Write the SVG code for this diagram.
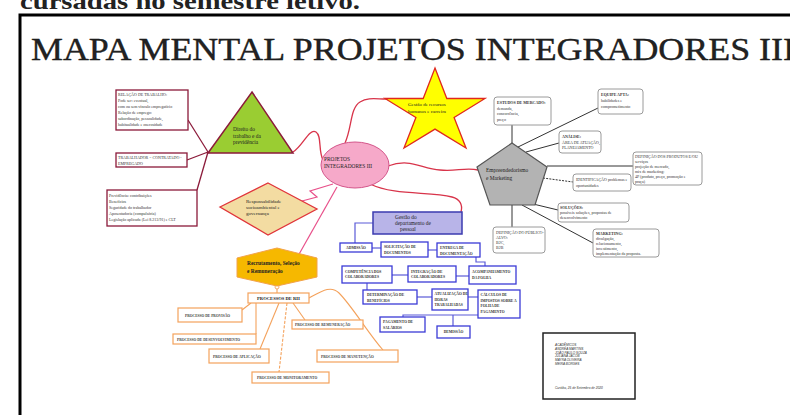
<svg xmlns="http://www.w3.org/2000/svg" width="790" height="415" viewBox="0 0 790 415">
<style>
.sf{font-family:"Liberation Serif",serif;fill:#222}
.ss{font-family:"Liberation Sans",sans-serif;fill:#333}
.lbl{font-size:5.4px}
.sm{font-size:4px;fill:#333}
.bl{font-size:3.7px;font-weight:bold;fill:#333}
.or{font-size:3.6px;font-weight:bold;fill:#444}
.gbox{fill:#fff;stroke:#9a9a9a;stroke-width:1}
.mbox{fill:#fff;stroke:#8b1a3a;stroke-width:1.3}
.obox{fill:#fff;stroke:#f4a25c;stroke-width:1.2}
.bbox{fill:#fff;stroke:#3b3bd6;stroke-width:1.3}
.cred{fill:none;stroke:#d8344a;stroke-width:1.3}
.cpink{fill:none;stroke:#e8508a;stroke-width:1.2}
.cmar{fill:none;stroke:#8b1a3a;stroke-width:1.3}
.cor{fill:none;stroke:#f4a25c;stroke-width:1.1}
.cblu{fill:none;stroke:#5a5ad8;stroke-width:1.2}
.cgr{fill:none;stroke:#333;stroke-width:1}
</style>

<text x="20" y="9" class="sf" font-size="24" font-weight="bold" textLength="340" lengthAdjust="spacingAndGlyphs">cursadas no semestre letivo.</text>
<rect x="20" y="15" width="800" height="420" fill="none" stroke="#000" stroke-width="3"/>
<text x="31" y="60" class="sf" font-size="31" fill="#111" stroke="#111" stroke-width="0.35" textLength="764" lengthAdjust="spacingAndGlyphs">MAPA MENTAL PROJETOS INTEGRADORES III</text>

<g id="connectors">
  <path class="cred" d="M293,152 C303,146 309,128 316,132 C322,136 318,150 323,160"/>
  <path class="cred" d="M345,143 C352,128 350,108 360,102 C368,97 376,99 386,99"/>
  <path class="cred" d="M388,166 C410,158 420,168 440,170 C455,172 465,167 478,170"/>
  <path class="cred" d="M370,184 C395,196 430,191 452,197 C460,199 463,205 461,212"/>
  <path class="cpink" d="M333,184 L310,191 L317,197 L302,201"/>
  <path class="cpink" d="M337,187 L298,256"/>
  <path class="cmar" d="M208,152 L188,120"/>
  <path class="cmar" d="M208,152 L187,160"/>
  <path class="cmar" d="M208,152 L197,190"/>
  <path class="cor" d="M277,287 L277,293"/>
  <circle cx="277" cy="287" r="2" fill="#fff" stroke="#f4a25c" stroke-width="0.9"/>
  <path class="cor" d="M251,303 L242,310"/>
  <path class="cor" d="M256,303 L256,334"/>
  <path class="cor" d="M279,303 L260,349"/>
  <path class="cor" d="M287,303 L279,372" stroke-dasharray="3,1.5"/>
  <path class="cor" d="M293,303 L305,320"/>
  <path class="cor" d="M309,298 C322,291 331,285 339,293 C352,306 368,333 383,350"/>
  <path class="cblu" d="M373,223 L355,223 L355,243"/>
  <path class="cblu" d="M372,248 L381,248"/>
  <path class="cblu" d="M428,250 L437,250" stroke-width="2"/>
  <path class="cblu" d="M476,257 L476,262 L485,262 L485,266"/>
  <path class="cblu" d="M469,276 L456,276"/>
  <path class="cblu" d="M408,275 L392,275"/>
  <path class="cblu" d="M367,283 L367,290"/>
  <path class="cblu" d="M417,297 L432,297"/>
  <path class="cblu" d="M468,297 L478,297"/>
  <path class="cblu" d="M403,317 L403,315 L478,315"/>
  <path class="cblu" d="M453,315 L453,326"/>
  <path class="cgr" d="M512,125 L512,143" stroke-width="1.4"/>
  <path class="cgr" d="M518,147 L598,108"/>
  <path class="cgr" d="M526,152 L559,143"/>
  <path class="cgr" d="M547,166 L633,166" stroke-width="1.6"/>
  <path class="cgr" d="M543,178 L573,182" stroke-dasharray="2,1.2"/>
  <path class="cgr" d="M529,203 L558,210"/>
  <path class="cgr" d="M522,205 L593,243"/>
  <path class="cgr" d="M512,205 L512,227" stroke-width="1.4"/>
</g>

<g id="center">
  <ellipse cx="355" cy="165" rx="34" ry="23" fill="#f6a9c9" stroke="#d4558a" stroke-width="1"/>
  <text class="sf lbl" x="324" y="161">PROJETOS</text>
  <text class="sf lbl" x="324" y="168">INTEGRADORES III</text>
</g>

<g id="star">
  <polygon points="435,68 446.8,98.5 485,98.5 454.1,117.4 466,148 435,129.1 404,148 415.9,117.4 385,98.5 423.2,98.5" fill="#ffff00" stroke="#e0281e" stroke-width="1.3"/>
  <text class="sf" font-size="5" x="408" y="106">Gestão de recursos</text>
  <text class="sf" font-size="5" x="408" y="113">humanos e carreira</text>
</g>

<g id="direito">
  <polygon points="252,92 293,153 208,153" fill="#9acd32" stroke="#8b1a3a" stroke-width="1.5"/>
  <text class="sf lbl" x="233" y="131">Direito do</text>
  <text class="sf lbl" x="233" y="137.5">trabalho e da</text>
  <text class="sf lbl" x="233" y="144">previdência</text>
</g>

<g id="relacao">
  <rect class="mbox" x="116" y="90" width="72" height="40"/>
  <text class="sf sm" x="118" y="96">RELAÇÃO DE TRABALHO:</text>
  <text class="sf sm" x="118" y="102">Pode ser: eventual,</text>
  <text class="sf sm" x="118" y="108">com ou sem vínculo empregatício</text>
  <text class="sf sm" x="118" y="114">Relação de emprego:</text>
  <text class="sf sm" x="118" y="120">subordinação, pessoalidade,</text>
  <text class="sf sm" x="118" y="126">habitualidade e onerosidade</text>
</g>

<g id="trabalhador">
  <rect class="mbox" x="116" y="153" width="71" height="14"/>
  <text class="sf sm" x="118" y="159">TRABALHADOR = CONTRATADO -</text>
  <text class="sf sm" x="118" y="165">EMPREGADO</text>
</g>

<g id="previdencia">
  <rect class="mbox" x="107" y="190" width="90" height="36"/>
  <text class="sf sm" x="109" y="197">Previdência: contribuições</text>
  <text class="sf sm" x="109" y="203">Benefícios</text>
  <text class="sf sm" x="109" y="209">Seguridade do trabalhador</text>
  <text class="sf sm" x="109" y="215">Aposentadoria (compulsória)</text>
  <text class="sf sm" x="109" y="221">Legislação aplicada (Lei 8.213/91) e CLT</text>
</g>

<g id="responsabilidade">
  <polygon points="268,183 317,209 268,235 220,207" fill="#f3dca2" stroke="#e0343a" stroke-width="1.3"/>
  <text class="sf" font-size="5" x="246" y="203">Responsabilidade</text>
  <text class="sf" font-size="5" x="246" y="209">socioambiental e</text>
  <text class="sf" font-size="5" x="246" y="215">governança</text>
</g>

<g id="recrutamento">
  <polygon points="277,248 317,258 317,277 277,286 237,277 237,258" fill="#f6b800" stroke="#f2a24a" stroke-width="1"/>
  <text class="sf lbl" x="247" y="265" font-weight="bold">Recrutamento, Seleção</text>
  <text class="sf lbl" x="247" y="273" font-weight="bold">e Remuneração</text>
</g>

<g id="processos">
  <rect class="obox" x="248" y="293" width="61" height="10"/>
  <text class="sf" font-size="4.6" font-weight="bold" x="278.5" y="299.8" text-anchor="middle">PROCESSOS DE RH</text>
</g>
<g id="provisao">
  <rect class="obox" x="178" y="308" width="64" height="14"/>
  <text class="sf or" x="185" y="316.5">PROCESSO DE PROVISÃO</text>
</g>
<g id="desenvolvimento">
  <rect class="obox" x="173" y="334" width="83" height="10"/>
  <text class="sf or" x="177" y="340.5">PROCESSO DE DESENVOLVIMENTO</text>
</g>
<g id="aplicacao">
  <rect class="obox" x="209" y="349" width="60" height="14"/>
  <text class="sf or" x="213" y="357.5">PROCESSO DE APLICAÇÃO</text>
</g>
<g id="monitoramento">
  <rect class="obox" x="252" y="372" width="77" height="11"/>
  <text class="sf or" x="257" y="379">PROCESSO DE MONITORAMENTO</text>
</g>
<g id="remuneracao">
  <rect class="obox" x="292" y="320" width="71" height="9"/>
  <text class="sf or" x="295" y="326">PROCESSO DE REMUNERAÇÃO</text>
</g>
<g id="manutencao">
  <rect class="obox" x="317" y="350" width="81" height="12"/>
  <text class="sf or" x="321" y="357.5">PROCESSO DE MANUTENÇÃO</text>
</g>

<g id="gestao-dp">
  <rect x="373" y="212" width="89" height="22" fill="#b8b4e8" stroke="#3b3bb0" stroke-width="1.5"/>
  <text class="sf lbl" x="395" y="218.5">Gestão do</text>
  <text class="sf lbl" x="395" y="224.5">departamento de</text>
  <text class="sf lbl" x="400" y="230.5">pessoal</text>
</g>
<g id="admissao">
  <rect class="bbox" x="340" y="243" width="32" height="9"/>
  <text class="sf bl" x="356" y="249" text-anchor="middle">ADMISSÃO</text>
</g>
<g id="solicitacao">
  <rect class="bbox" x="381" y="242" width="47" height="15"/>
  <text class="sf bl" x="384" y="248">SOLICITAÇÃO DE</text>
  <text class="sf bl" x="384" y="253.5">DOCUMENTOS</text>
</g>
<g id="entrega">
  <rect class="bbox" x="437" y="243" width="43" height="14"/>
  <text class="sf bl" x="440" y="249">ENTREGA DE</text>
  <text class="sf bl" x="440" y="254.5">DOCUMENTAÇÃO</text>
</g>
<g id="competencia">
  <rect class="bbox" x="342" y="266" width="50" height="17"/>
  <text class="sf bl" x="345" y="272.5">COMPETÊNCIA DOS</text>
  <text class="sf bl" x="345" y="278">COLABORADORES</text>
</g>
<g id="integracao">
  <rect class="bbox" x="408" y="266" width="48" height="16"/>
  <text class="sf bl" x="411" y="272.5">INTEGRAÇÃO DE</text>
  <text class="sf bl" x="411" y="278">COLABORADORES</text>
</g>
<g id="acompanhamento">
  <rect class="bbox" x="469" y="266" width="47" height="18"/>
  <text class="sf bl" x="472" y="273">ACOMPANHAMENTO</text>
  <text class="sf bl" x="472" y="278.5">DA FOLHA</text>
</g>
<g id="determinacao">
  <rect class="bbox" x="363" y="290" width="54" height="14"/>
  <text class="sf bl" x="367" y="296">DETERMINAÇÃO DE</text>
  <text class="sf bl" x="367" y="301.5">BENEFÍCIOS</text>
</g>
<g id="atualizacao">
  <rect class="bbox" x="432" y="289" width="36" height="21"/>
  <text class="sf bl" x="434.5" y="295">ATUALIZAÇÃO DE</text>
  <text class="sf bl" x="434.5" y="300.5">HORAS</text>
  <text class="sf bl" x="434.5" y="306">TRABALHADAS</text>
</g>
<g id="calculos">
  <rect class="bbox" x="478" y="290" width="42" height="28"/>
  <text class="sf bl" x="480.5" y="296" font-size="3.4">CÁLCULOS DE</text>
  <text class="sf bl" x="480.5" y="301.5" font-size="3.4">IMPOSTOS SOBRE A</text>
  <text class="sf bl" x="480.5" y="307" font-size="3.4">FOLHA DE</text>
  <text class="sf bl" x="480.5" y="312.5" font-size="3.4">PAGAMENTO</text>
</g>
<g id="pagamento">
  <rect class="bbox" x="380" y="317" width="45" height="15"/>
  <text class="sf bl" x="383" y="323">PAGAMENTO DE</text>
  <text class="sf bl" x="383" y="328.5">SALÁRIOS</text>
</g>
<g id="demissao">
  <rect class="bbox" x="437" y="326" width="33" height="12"/>
  <text class="sf bl" x="453.5" y="333.3" text-anchor="middle">DEMISSÃO</text>
</g>

<g id="empreendedorismo">
  <polygon points="512,143 547,167 535,205 490,205 477,167" fill="#b3b3b3" stroke="#555" stroke-width="1.2"/>
  <text class="sf lbl" x="486" y="172">Empreendedorismo</text>
  <text class="sf lbl" x="486" y="180">e Marketing</text>
</g>
<g id="estudos">
  <rect class="gbox" x="494" y="97" width="57" height="28" rx="3"/>
  <text class="sf sm" x="497" y="104" font-weight="bold">ESTUDOS DE MERCADO:</text>
  <text class="sf sm" x="497" y="109.5">demanda,</text>
  <text class="sf sm" x="497" y="115">concorrência,</text>
  <text class="sf sm" x="497" y="120.5">preço</text>
</g>
<g id="equipe">
  <rect class="gbox" x="598" y="89" width="45" height="25" rx="3"/>
  <text class="sf sm" x="601" y="96" font-weight="bold">EQUIPE APTA:</text>
  <text class="sf sm" x="601" y="102">habilidades e</text>
  <text class="sf sm" x="601" y="107.5">comprometimento</text>
</g>
<g id="analise">
  <rect class="gbox" x="559" y="131" width="42" height="22" rx="3"/>
  <text class="sf sm" x="562" y="138" font-weight="bold">ANÁLISE:</text>
  <text class="sf sm" x="562" y="144" font-size="3.6">ÁREA DE ATUAÇÃO,</text>
  <text class="sf sm" x="562" y="149" font-size="3.6">PLANEJAMENTO</text>
</g>
<g id="definicao">
  <rect class="gbox" x="633" y="152" width="69" height="33" rx="3"/>
  <text class="sf sm" x="635" y="157.5" font-size="3.6">DEFINIÇÃO DOS PRODUTOS E/OU</text>
  <text class="sf sm" x="635" y="162.5">serviços</text>
  <text class="sf sm" x="635" y="167.5">projeção de mercado,</text>
  <text class="sf sm" x="635" y="172.5">mix de marketing:</text>
  <text class="sf sm" x="635" y="177.5">4P (produto, preço, promoção e</text>
  <text class="sf sm" x="635" y="182.5">praça)</text>
</g>
<g id="identificacao">
  <rect class="gbox" x="573" y="174" width="58" height="17" rx="3"/>
  <text class="sf sm" x="576" y="181">IDENTIFICAÇÃO problemas e</text>
  <text class="sf sm" x="576" y="186.5">oportunidades</text>
</g>
<g id="solucoes">
  <rect class="gbox" x="558" y="203" width="71" height="19" rx="3"/>
  <text class="sf sm" x="560" y="209" font-weight="bold">SOLUÇÕES:</text>
  <text class="sf sm" x="560" y="214">possíveis soluções, propostas de</text>
  <text class="sf sm" x="560" y="219">desenvolvimento</text>
</g>
<g id="marketing">
  <rect class="gbox" x="593" y="229" width="66" height="28" rx="3"/>
  <text class="sf sm" x="596" y="235" font-weight="bold">MARKETING:</text>
  <text class="sf sm" x="596" y="240">divulgação,</text>
  <text class="sf sm" x="596" y="245">relacionamento,</text>
  <text class="sf sm" x="596" y="250">investimento,</text>
  <text class="sf sm" x="596" y="255">implementação da proposta.</text>
</g>
<g id="publico">
  <rect class="gbox" x="493" y="227" width="52" height="26" rx="3"/>
  <text class="sf sm" x="496" y="233.5" font-size="3.6">DEFINIÇÃO DO PÚBLICO-</text>
  <text class="sf sm" x="496" y="238.5">ALVO:</text>
  <text class="sf sm" x="496" y="243.5">B2C,</text>
  <text class="sf sm" x="496" y="248.5">B2B</text>
</g>

<g id="academicos">
  <rect x="543" y="333" width="92" height="66" fill="#fff" stroke="#222" stroke-width="1.5"/>
  <g class="ss" font-size="3.2" font-style="italic">
    <text x="555" y="346">ACADÊMICOS</text>
    <text x="555" y="349.8">ANDRÉA MARTINS</text>
    <text x="555" y="353.6">JOÃO PAULO SOUZA</text>
    <text x="555" y="357.4">JULIANA JACOB</text>
    <text x="555" y="361.2">MAYRA OLIVEIRA</text>
    <text x="555" y="365">MEIRA BORGES</text>
    <text x="555" y="389">Curitiba, 25 de Setembro de 2020</text>
  </g>
</g>
</svg>
